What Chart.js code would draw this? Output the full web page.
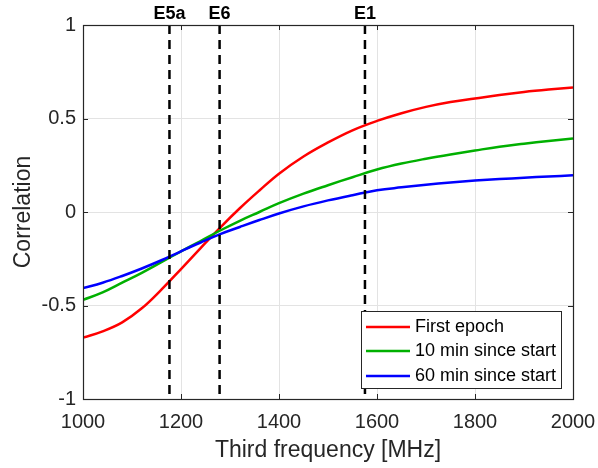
<!DOCTYPE html>
<html>
<head>
<meta charset="utf-8">
<script src="https://cdn.jsdelivr.net/npm/chart.js@4.4.1/dist/chart.umd.min.js"></script>
<style>
  html, body { margin: 0; padding: 0; background: #ffffff; }
  #wrap { width: 598px; height: 468px; }
</style>
</head>
<body>
<div id="wrap"><canvas id="chart" width="598" height="468"></canvas></div>
<script>
// Frequency grid (MHz) at which the correlation curves are sampled
const freqMHz = [1000, 1040, 1080, 1120, 1160, 1200, 1240, 1280, 1320, 1360, 1400, 1450, 1500, 1550, 1600, 1650, 1700, 1750, 1800, 1850, 1900, 1950, 2000];

// Correlation vs. third frequency
const firstEpoch = [-0.672, -0.638, -0.590, -0.515, -0.415, -0.305, -0.193, -0.083, 0.020, 0.115, 0.205, 0.297, 0.372, 0.437, 0.487, 0.528, 0.562, 0.588, 0.607, 0.626, 0.642, 0.655, 0.666];
const min10 = [-0.470, -0.430, -0.378, -0.325, -0.268, -0.211, -0.155, -0.099, -0.047, 0.000, 0.047, 0.098, 0.143, 0.186, 0.227, 0.259, 0.285, 0.308, 0.329, 0.349, 0.365, 0.380, 0.393];
const min60 = [-0.407, -0.378, -0.342, -0.302, -0.258, -0.210, -0.163, -0.118, -0.080, -0.043, -0.008, 0.030, 0.062, 0.090, 0.116, 0.132, 0.146, 0.158, 0.168, 0.176, 0.183, 0.190, 0.196];

const seriesLabels = ['First epoch', '10 min since start', '60 min since start'];
const seriesColors = ['#ff0000', '#00b000', '#0000ff'];

// Galileo carrier frequencies marked with dashed lines
const bandNames = ['E5a', 'E6', 'E1'];
const bandFreqMHz = [1176.45, 1278.75, 1575.42];

// Axis ticks
const xTicks = [1000, 1200, 1400, 1600, 1800, 2000];
const yTicks = [-1, -0.5, 0, 0.5, 1];

const AXIS_COLOR = '#262626';
const FONT = '"Liberation Sans", Arial, Helvetica, sans-serif';

function toPoints(xs, ys) {
  return xs.map((x, i) => ({ x: x, y: ys[i] }));
}

const curveSets = [firstEpoch, min10, min60].map((vals, i) => ({
  label: seriesLabels[i],
  data: toPoints(freqMHz, vals),
  borderColor: seriesColors[i],
  borderWidth: 2.5,
  pointRadius: 0,
  fill: false,
  tension: 0.4,
  order: 3 - i
}));

const bandSets = bandFreqMHz.map((f, i) => ({
  label: bandNames[i],
  data: [{ x: f, y: 1 }, { x: f, y: -1 }],
  borderColor: '#000000',
  borderWidth: 2.5,
  borderDash: [9, 6],
  pointRadius: 0,
  fill: false,
  order: 0
}));

// Box, inside tick marks, band labels and legend
const decorations = {
  id: 'decorations',
  afterDatasetsDraw(chart) {
    const ctx = chart.ctx;
    const a = chart.chartArea;
    const xs = chart.scales.x, ys = chart.scales.y;
    ctx.save();

    // inside tick marks on all four sides
    ctx.strokeStyle = AXIS_COLOR;
    ctx.lineWidth = 1;
    const tl = 5;
    ctx.beginPath();
    xTicks.forEach(v => {
      const px = Math.round(xs.getPixelForValue(v)) + 0.5;
      ctx.moveTo(px, a.bottom); ctx.lineTo(px, a.bottom - tl);
      ctx.moveTo(px, a.top); ctx.lineTo(px, a.top + tl);
    });
    yTicks.forEach(v => {
      const py = Math.round(ys.getPixelForValue(v)) + 0.5;
      ctx.moveTo(a.left, py); ctx.lineTo(a.left + tl, py);
      ctx.moveTo(a.right, py); ctx.lineTo(a.right - tl, py);
    });
    ctx.stroke();

    // axes box
    ctx.strokeStyle = AXIS_COLOR;
    ctx.lineWidth = 1.2;
    ctx.strokeRect(Math.round(a.left) + 0.5, Math.round(a.top) + 0.5,
                   Math.round(a.right - a.left), Math.round(a.bottom - a.top));

    // band labels above the plot
    ctx.fillStyle = '#000000';
    ctx.font = 'bold 18px ' + FONT;
    ctx.textAlign = 'center';
    ctx.textBaseline = 'middle';
    bandFreqMHz.forEach((f, i) => {
      ctx.fillText(bandNames[i], xs.getPixelForValue(f), 14);
    });

    // legend
    const lx = 361, ly = 311, lw = 200, lh = 77;
    ctx.fillStyle = '#ffffff';
    ctx.fillRect(lx, ly, lw, lh);
    ctx.strokeStyle = AXIS_COLOR;
    ctx.lineWidth = 1;
    ctx.strokeRect(lx + 0.5, ly + 0.5, lw, lh);
    ctx.font = '18px ' + FONT;
    ctx.textAlign = 'left';
    ctx.textBaseline = 'middle';
    const rowY = [327, 351, 376];
    seriesLabels.forEach((lab, i) => {
      ctx.strokeStyle = seriesColors[i];
      ctx.lineWidth = 2.5;
      ctx.beginPath();
      ctx.moveTo(366, rowY[i]);
      ctx.lineTo(410, rowY[i]);
      ctx.stroke();
      ctx.fillStyle = '#000000';
      ctx.fillText(lab, 415, rowY[i]);
    });

    ctx.restore();
  }
};

new Chart(document.getElementById('chart'), {
  type: 'line',
  data: { datasets: [...bandSets, ...curveSets] },
  options: {
    responsive: false,
    animation: false,
    devicePixelRatio: 1,
    layout: { padding: { left: 0, right: 25, top: 25, bottom: 0 } },
    plugins: { legend: { display: false }, tooltip: { enabled: false } },
    scales: {
      x: {
        type: 'linear',
        min: 1000, max: 2000,
        afterBuildTicks: s => { s.ticks = xTicks.map(v => ({ value: v })); },
        afterFit: s => { s.height = 69; s.paddingLeft = 0; s.paddingRight = 0; },
        grid: { color: '#e3e3e3', lineWidth: 1, drawTicks: false },
        border: { display: false },
        ticks: {
          color: AXIS_COLOR,
          font: { family: FONT, size: 20 },
          padding: 11,
          maxRotation: 0,
          callback: v => String(v)
        },
        title: {
          display: true,
          text: 'Third frequency [MHz]',
          color: AXIS_COLOR,
          font: { family: FONT, size: 23 },
          padding: { top: 0, bottom: 4 }
        }
      },
      y: {
        type: 'linear',
        min: -1, max: 1,
        afterBuildTicks: s => { s.ticks = yTicks.map(v => ({ value: v })); },
        afterFit: s => { s.width = 83; s.paddingTop = 0; s.paddingBottom = 0; },
        grid: { color: '#e3e3e3', lineWidth: 1, drawTicks: false },
        border: { display: false },
        ticks: {
          color: AXIS_COLOR,
          font: { family: FONT, size: 20 },
          padding: 7,
          callback: v => String(v)
        },
        title: {
          display: true,
          text: 'Correlation',
          color: AXIS_COLOR,
          font: { family: FONT, size: 23 },
          padding: { top: 10, bottom: 0 }
        }
      }
    }
  },
  plugins: [decorations]
});
</script>
</body>
</html>
